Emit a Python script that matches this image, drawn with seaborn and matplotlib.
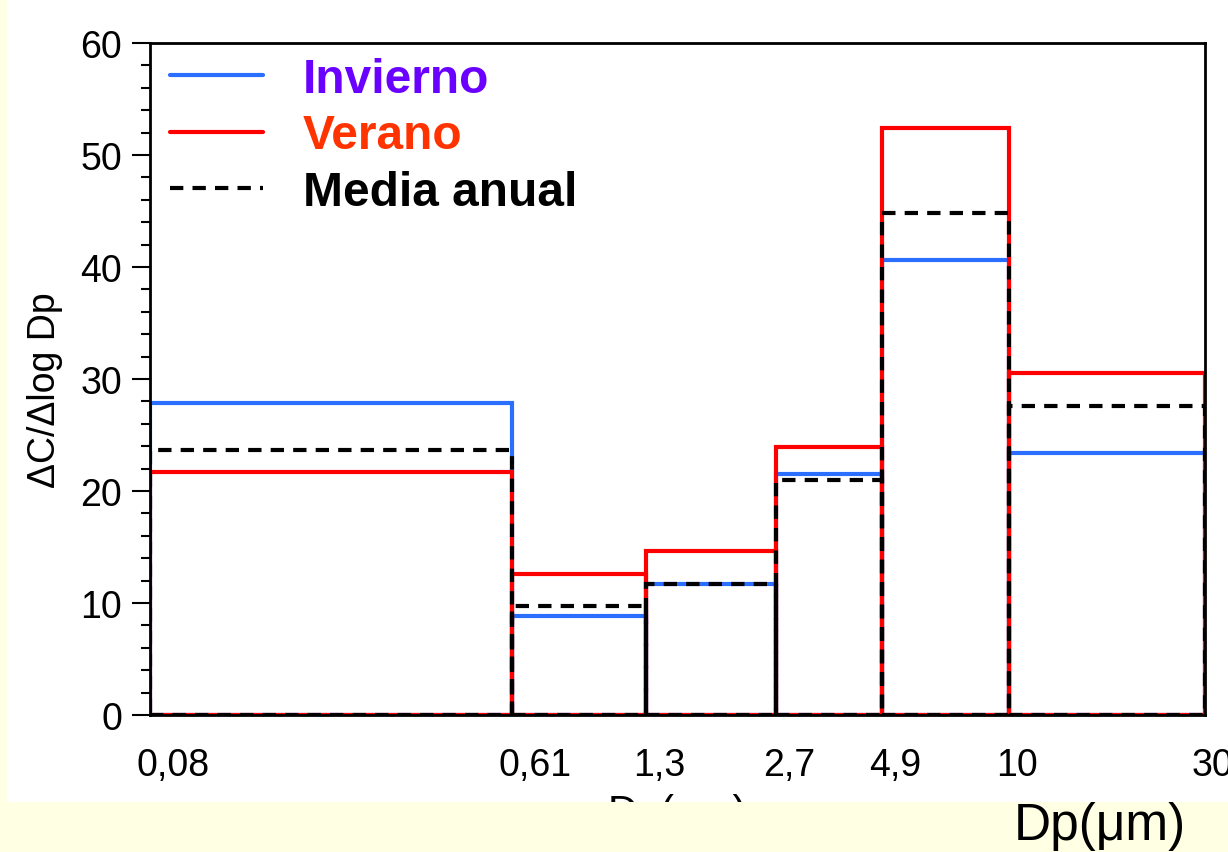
import numpy as np
import pandas as pd
import matplotlib
matplotlib.use("Agg")
import matplotlib.pyplot as plt
from matplotlib.lines import Line2D
from matplotlib.patches import Rectangle
from matplotlib.transforms import ScaledTranslation
from matplotlib.ticker import FixedLocator, MultipleLocator, NullLocator
import seaborn as sns

# Size bins (um) and concentrations per bin
edges = [0.08, 0.61, 1.3, 2.7, 4.9, 10, 30]
edge_labels = ["0,08", "0,61", "1,3", "2,7", "4,9", "10", "30"]
invierno = [27.9, 8.8, 11.7, 21.5, 40.6, 23.4]
verano = [21.7, 12.6, 14.6, 23.9, 52.4, 30.5]
media = [23.7, 9.7, 11.7, 21.0, 44.8, 27.6]

series_names = ["Invierno", "Verano", "Media anual"]
line_colors = ["#2a6fff", "#ff0000", "#000000"]
text_colors = ["#6a00ff", "#ff3300", "#000000"]
line_styles = ["-", "-", (0, (3.2, 2.2))]

sns.set_theme(style="white")
plt.rcParams["font.family"] = ["Liberation Sans", "DejaVu Sans"]

yellow = "#ffffe3"
fig = plt.figure(figsize=(12.28, 8.53), dpi=100, facecolor=yellow)
fig.patches.append(Rectangle((7 / 1228, 1 - 803 / 853), 1, 1, transform=fig.transFigure,
                             facecolor="white", edgecolor="none", zorder=-1))
ax = fig.add_axes([150 / 1228, 1 - 716 / 853, 1055 / 1228, 672 / 853])

centers = np.sqrt(np.array(edges[:-1]) * np.array(edges[1:]))
log_bins = [float(b) for b in np.log10(edges)]
for name, vals, col, ls in zip(series_names, [invierno, verano, media], line_colors, line_styles):
    df = pd.DataFrame({"Dp": centers, "val": vals})
    sns.histplot(data=df, x="Dp", weights="val", bins=log_bins, log_scale=True,
                 element="bars", fill=False, color=col, linewidth=3, linestyle=ls, ax=ax)

ax.set_xlim(edges[0], edges[-1])
ax.set_ylim(0, 60)
ax.xaxis.set_major_locator(FixedLocator(edges))
ax.set_xticklabels(edge_labels)
ax.xaxis.set_minor_locator(NullLocator())
ax.yaxis.set_major_locator(MultipleLocator(10))
ax.yaxis.set_minor_locator(MultipleLocator(2))
ax.tick_params(axis="x", length=0, pad=23, labelsize=27, colors="black")
ax.tick_params(axis="y", which="major", length=13, width=1.5, pad=7, labelsize=27, left=True, colors="black")
ax.tick_params(axis="y", which="minor", length=6.5, width=1.5, left=True, colors="black")
for sp in ax.spines.values():
    sp.set_color("black")
    sp.set_linewidth(2.0)

# x labels sit a little right of the bin edges, left aligned
shift = ScaledTranslation(-13 / 100, 0, fig.dpi_scale_trans)
for lab in ax.get_xticklabels():
    lab.set_horizontalalignment("left")
    lab.set_transform(lab.get_transform() + shift)

ax.set_ylabel("\u0394C/\u0394log Dp", fontsize=27, color="black")
ax.yaxis.set_label_coords(-87 / 1055, (716 - 390) / 672)
ax.set_xlabel("Dp(\u03bcm)", fontsize=30, color="black", labelpad=7)

handles = [Line2D([], [], color=c, lw=3, linestyle=s) for c, s in zip(line_colors, line_styles)]
leg = ax.legend(handles, series_names, loc="upper left", bbox_to_anchor=(10.4 / 1055, 1 - 4.4 / 672),
                frameon=False, fontsize=34.5, handlelength=1.94, handletextpad=0.83,
                labelspacing=0.24, borderaxespad=0, borderpad=0.2)
for t, c in zip(leg.get_texts(), text_colors):
    t.set_color(c)
    t.set_fontweight("bold")

# yellow strip that hides the lower part of the panel
fig.patches.append(Rectangle((0, 0), 1, 1 - 803 / 853, transform=fig.transFigure,
                             facecolor=yellow, edgecolor="none", zorder=5))
fig.text(1100 / 1228, 1 - 827 / 853, "Dp(\u03bcm)", fontsize=37, color="black",
         ha="center", va="center", zorder=6)

fig.savefig("out.png", dpi=100, facecolor=yellow)
